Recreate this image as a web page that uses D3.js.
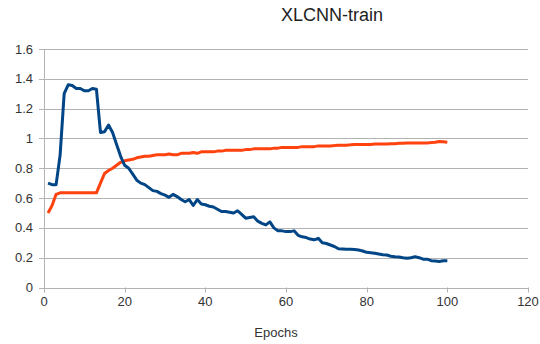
<!DOCTYPE html>
<html>
<head>
<meta charset="utf-8">
<script src="https://cdn.jsdelivr.net/npm/d3@7"></script>
<style>
  html, body { margin: 0; padding: 0; background: #fff; }
  svg { display: block; font-family: "Liberation Sans", Arial, sans-serif; }
</style>
</head>
<body>
<svg id="chart" width="540" height="344"></svg>
<script>
const title = "XLCNN-train";
const xLabel = "Epochs";
const epochs = d3.range(1, 101);
const xTicks = [0, 20, 40, 60, 80, 100, 120];
const yTicks = [0, 0.2, 0.4, 0.6, 0.8, 1, 1.2, 1.4, 1.6];

const lossValues = [
  0.70, 0.69, 0.69, 0.89, 1.30, 1.36, 1.355, 1.335, 1.335, 1.32,
  1.32, 1.335, 1.33, 1.04, 1.045, 1.09, 1.04, 0.96, 0.88, 0.82,
  0.80, 0.76, 0.72, 0.70, 0.69, 0.67, 0.65, 0.645, 0.63, 0.62,
  0.605, 0.625, 0.61, 0.59, 0.575, 0.59, 0.55, 0.59, 0.56, 0.555,
  0.545, 0.54, 0.525, 0.51, 0.51, 0.505, 0.50, 0.515, 0.49, 0.465,
  0.47, 0.475, 0.445, 0.43, 0.42, 0.44, 0.40, 0.38, 0.38, 0.375,
  0.375, 0.38, 0.35, 0.34, 0.335, 0.325, 0.32, 0.33, 0.30, 0.295,
  0.285, 0.275, 0.26, 0.258, 0.256, 0.256, 0.255, 0.252, 0.245, 0.236,
  0.233, 0.23, 0.225, 0.22, 0.218, 0.21, 0.207, 0.205, 0.20, 0.196,
  0.20, 0.207, 0.20, 0.19, 0.19, 0.18, 0.178, 0.175, 0.18, 0.18
];

const accValues = [
  0.50, 0.55, 0.625, 0.635, 0.635, 0.635, 0.635, 0.635, 0.635, 0.635,
  0.635, 0.635, 0.635, 0.70, 0.765, 0.785, 0.80, 0.82, 0.84, 0.85,
  0.855, 0.86, 0.87, 0.875, 0.88, 0.88, 0.885, 0.89, 0.89, 0.89,
  0.895, 0.89, 0.89, 0.90, 0.90, 0.90, 0.905, 0.90, 0.91, 0.91,
  0.91, 0.91, 0.915, 0.915, 0.92, 0.92, 0.92, 0.92, 0.92, 0.925,
  0.925, 0.93, 0.93, 0.93, 0.93, 0.93, 0.935, 0.935, 0.94, 0.94,
  0.94, 0.94, 0.94, 0.945, 0.945, 0.945, 0.945, 0.95, 0.95, 0.95,
  0.95, 0.952, 0.955, 0.955, 0.955, 0.957, 0.96, 0.96, 0.96, 0.96,
  0.96, 0.962, 0.962, 0.962, 0.963, 0.965, 0.965, 0.968, 0.968, 0.97,
  0.97, 0.97, 0.97, 0.97, 0.97, 0.972, 0.975, 0.98, 0.978, 0.975
];

const svg = d3.select("#chart");
const x = d3.scaleLinear().domain([0, 120]).range([44, 528]);
const y = d3.scaleLinear().domain([0, 1.6]).range([287.5, 49]);
const grid = "#b3b3b3";
const textCol = "#333333";

// gridlines
svg.append("g").selectAll("line").data(yTicks).join("line")
  .attr("x1", x(0) - 5).attr("x2", x(120))
  .attr("y1", d => Math.round(y(d)) + 0.5).attr("y2", d => Math.round(y(d)) + 0.5)
  .attr("stroke", grid).attr("stroke-width", 1);

// y axis line
svg.append("line")
  .attr("x1", Math.round(x(0)) + 0.5).attr("x2", Math.round(x(0)) + 0.5)
  .attr("y1", y(1.6)).attr("y2", y(0) + 5)
  .attr("stroke", grid);

// x ticks
svg.append("g").selectAll("line").data(xTicks).join("line")
  .attr("x1", d => Math.round(x(d)) + 0.5).attr("x2", d => Math.round(x(d)) + 0.5)
  .attr("y1", y(0)).attr("y2", y(0) + 5)
  .attr("stroke", grid);

// y tick labels
svg.append("g").selectAll("text").data(yTicks).join("text")
  .attr("x", 33).attr("y", d => y(d)).attr("dy", "0.35em")
  .attr("text-anchor", "end").attr("font-size", 13).attr("fill", textCol)
  .text(d => String(+d.toFixed(1)));

// x tick labels
svg.append("g").selectAll("text").data(xTicks).join("text")
  .attr("x", d => x(d)).attr("y", y(0) + 14).attr("dy", "0.35em")
  .attr("text-anchor", "middle").attr("font-size", 13).attr("fill", textCol)
  .text(d => d);

// lines
const lineGen = vals => d3.line()
  .x((d, i) => x(epochs[i]))
  .y(d => y(d))(vals);

svg.append("path").attr("d", lineGen(accValues))
  .attr("fill", "none").attr("stroke", "#ff420e").attr("stroke-width", 3)
  .attr("stroke-linejoin", "round").attr("stroke-linecap", "butt");

svg.append("path").attr("d", lineGen(lossValues))
  .attr("fill", "none").attr("stroke", "#004586").attr("stroke-width", 3)
  .attr("stroke-linejoin", "round").attr("stroke-linecap", "butt");

// title
svg.append("text").attr("x", 332).attr("y", 21)
  .attr("text-anchor", "middle").attr("font-size", 18).attr("fill", "#222")
  .text(title);

// x axis label
svg.append("text").attr("x", 276).attr("y", 332).attr("dy", "0.35em")
  .attr("text-anchor", "middle").attr("font-size", 13).attr("fill", textCol)
  .text(xLabel);
</script>
</body>
</html>
